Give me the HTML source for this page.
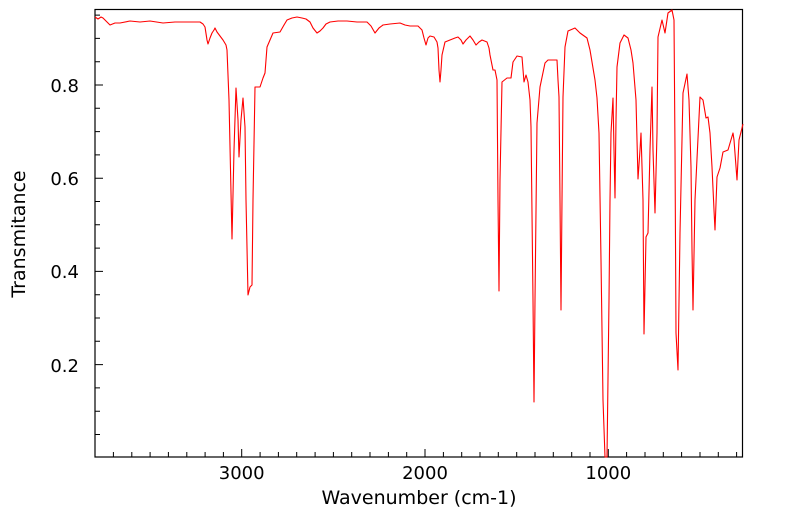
<!DOCTYPE html><html><head><style>body{margin:0;background:#fff}</style></head><body>
<svg width="799" height="516" xmlns="http://www.w3.org/2000/svg" font-family="DejaVu Sans, Liberation Sans, sans-serif">
<rect x="95" y="9.5" width="647.5" height="447.5" fill="none" stroke="#000" stroke-width="1.2"/>
<path stroke="#000" stroke-width="1" fill="none" d="
M113.4 457V452 M131.8 457V452 M150.1 457V452 M168.4 457V452 M186.8 457V452 M205.1 457V452 M223.4 457V452 M241.7 457V449
M260.1 457V452 M278.4 457V452 M296.7 457V452 M315.1 457V452 M333.4 457V452 M351.7 457V452 M370 457V452 M388.4 457V452 M406.7 457V452 M425 457V449
M443.4 457V452 M461.7 457V452 M480 457V452 M498.3 457V452 M516.7 457V452 M535 457V452 M553.3 457V452 M571.7 457V452 M590 457V452 M608.3 457V449
M626.6 457V452 M645 457V452 M663.3 457V452 M681.6 457V452 M700 457V452 M718.3 457V452 M736.6 457V452
M95 15.1H100 M95 38.4H100 M95 61.7H100 M95 85H103 M95 108.3H100 M95 131.6H100 M95 154.9H100 M95 178.2H103 M95 201.5H100 M95 224.8H100 M95 248.1H100 M95 271.4H103 M95 294.7H100 M95 318H100 M95 341.3H100 M95 364.6H103 M95 387.9H100 M95 411.2H100 M95 434.5H100"/>
<g font-size="18" fill="#000">
<text x="241.7" y="479" text-anchor="middle">3000</text>
<text x="425" y="479" text-anchor="middle">2000</text>
<text x="608.3" y="479" text-anchor="middle">1000</text>
<text x="79" y="92" text-anchor="end">0.8</text>
<text x="79" y="185" text-anchor="end">0.6</text>
<text x="79" y="278" text-anchor="end">0.4</text>
<text x="79" y="372" text-anchor="end">0.2</text>
<text x="419" y="504" text-anchor="middle" font-size="19">Wavenumber (cm-1)</text>
<text transform="translate(25,234) rotate(-90)" text-anchor="middle" font-size="19">Transmitance</text>
</g>
<polyline fill="none" stroke="#f00" stroke-width="1.1" stroke-linejoin="round" points="95,17 98,19 101,17 103,18 106,21 110,25 115,23 120,23 130,21 140,22 150,21 163,23 175,22 190,22 200,22 203,24 205,27 207,40 208,44 210,38 212,33 214,30 215,28 217,32 220,36 223,40 226,45 227,50 229,100 232,239 234,150 236,88 238,120 239,157 241,120 243,98 245,127 246,200 248,295 250,287 252,285 253,200 255,87 260,87 263,78 265,73 266,60 267,47 270,40 273,33 280,32 284,25 287,20 292,18 297,17 302,18 306,19 310,22 313,28 317,33 320,31 323,28 326,24 330,22 338,21 347,21 357,22 367,22 371,26 375,33 379,28 383,25 390,24 400,23 405,25 410,26 418,26 422,30 424,38 426,45 428,38 430,36 434,37 437,42 438,48 439,70 440,82 441,70 442,55 445,42 450,40 455,38 458,37 461,40 463,44 466,40 470,36 473,40 476,45 479,42 482,40 487,42 489,48 490,55 493,70 495,70 497,80 498,200 499,291 500,180 502,82 507,78 511,78 513,62 517,56 522,57 524,82 526,75 528,82 530,100 531,127 533,300 534,402 535,300 537,123 540,87 545,63 548,60 557,60 558,80 559,97 560,200 561,310 562,200 563,97 565,47 568,31 575,28 580,33 587,38 590,50 592,62 595,80 597,98 599,133 601,260 603,400 605,457 607,457 609,300 610,200 611,133 613,98 614,150 615,198 616,120 617,67 620,43 624,35 628,38 631,50 633,63 636,100 637,140 638,179 640,150 641,133 643,200 644,334 646,237 648,233 650,150 652,87 653,150 655,213 657,133 658,37 662,20 665,33 668,13 672,10 674,20 675,150 676,333 678,370 680,233 683,93 687,74 689,100 691,167 692,250 693,310 695,200 700,97 703,100 706,118 708,117 710,133 712,167 714,210 715,230 717,177 720,168 723,152 728,150 733,133 734,140 737,180 739,140 743,124"/>
</svg>
</body></html>
